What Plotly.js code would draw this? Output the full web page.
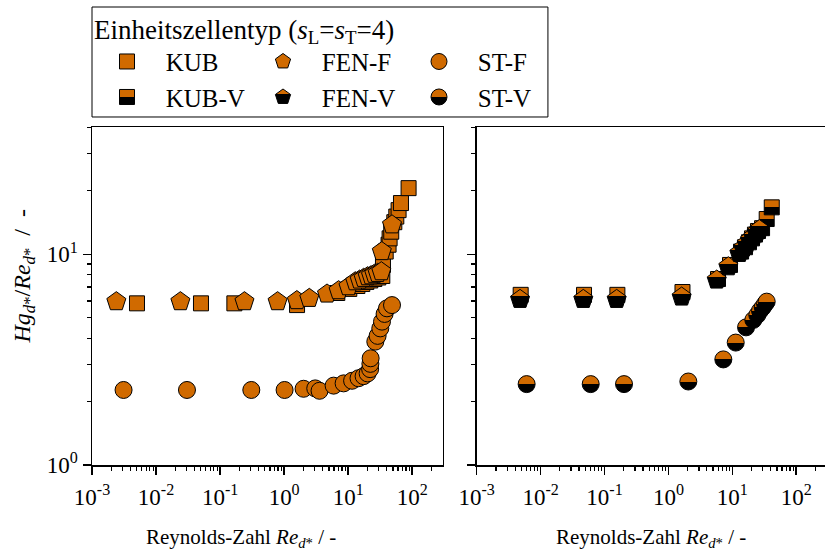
<!DOCTYPE html>
<html><head><meta charset="utf-8">
<script src="https://cdn.plot.ly/plotly-3.0.1.min.js"></script>
<style>html,body{margin:0;padding:0;background:#fff;}#chart{width:825px;height:552px;}</style>
</head><body><div id="chart"></div>
<script>
// ---- data ----
const xTickVals = [0.001, 0.01, 0.1, 1, 10, 100];
const xTickText = ['10<sup>-3</sup>', '10<sup>-2</sup>', '10<sup>-1</sup>', '10<sup>0</sup>', '10<sup>1</sup>', '10<sup>2</sup>'];
const yTickVals = [1, 10];
const yTickText = ['10<sup>0</sup>', '10<sup>1</sup>'];

const kubX = [0.00504, 0.0503, 0.167, 1.59, 6.76, 10.4, 13.9, 16.6, 19.2, 22.1, 25.6, 29.5, 34.1, 34.9, 38.5, 42.7, 44.3, 47.0, 52.5, 56.4, 61.2, 66.7, 87.7];
const kubY = [5.85, 5.85, 5.85, 5.74, 6.55, 6.85, 7.07, 7.23, 7.39, 7.51, 7.63, 7.76, 7.89, 8.90, 10.3, 11.1, 11.9, 12.8, 14.2, 15.1, 16.2, 17.5, 20.6];

const fenX = [0.0024, 0.024, 0.24, 0.79, 1.58, 2.47, 4.67, 7.08, 10.1, 12.9, 15.1, 17.4, 20.1, 22.7, 25.6, 28.8, 32.9, 33.5, 48.3];
const fenY = [5.96, 5.96, 5.96, 5.96, 6.03, 6.18, 6.48, 6.72, 7.02, 7.41, 7.55, 7.69, 7.83, 7.91, 8.04, 8.12, 8.27, 10.3, 13.8];

const stX = [0.00311, 0.0304, 0.307, 1.016, 2.01, 3.06, 3.57, 5.92, 8.48, 11.5, 14.5, 17.4, 20.1, 22.0, 22.2, 22.4, 26.5, 28.8, 31.7, 33.7, 37.0, 40.3, 48.3];
const stY = [2.27, 2.27, 2.27, 2.27, 2.30, 2.31, 2.25, 2.38, 2.44, 2.51, 2.58, 2.64, 2.72, 2.85, 3.02, 3.21, 3.85, 4.10, 4.45, 4.79, 5.21, 5.54, 5.74];

const kubvX = [0.00488, 0.0478, 0.159, 1.66, 5.97, 9.20, 13.7, 15.8, 18.2, 20.3, 22.6, 25.2, 29.2, 34.5, 41.4];
const kubvY = [6.42, 6.42, 6.42, 6.62, 7.63, 8.90, 10.3, 10.8, 11.4, 11.9, 12.4, 12.9, 13.3, 14.7, 16.7];

const fenvX = [0.00477, 0.0466, 0.155, 1.61, 5.70, 8.66, 12.9, 14.9, 16.8, 18.9, 21.3, 24.1, 26.5];
const fenvY = [6.11, 6.11, 6.11, 6.27, 7.55, 8.73, 10.1, 10.7, 11.2, 11.7, 12.1, 12.7, 13.1];

const stvX = [0.00605, 0.0608, 0.202, 2.05, 7.23, 11.3, 16.4, 21.3, 24.6, 27.1, 29.9, 32.5, 34.5];
const stvY = [2.42, 2.42, 2.42, 2.49, 3.17, 3.81, 4.50, 4.88, 5.15, 5.40, 5.60, 5.81, 5.96];

const names = ['KUB', 'KUB-V', 'FEN-F', 'FEN-V', 'ST-F', 'ST-V'];

// ---- styling ----
const orange = '#D06A00';
const FONT = '"Liberation Serif", "Times New Roman", serif';
const pad = '\u00a0\u00a0\u00a0';
const sp = '\u00a0\u00a0';

function mk(symbol, size, half) {
  const m = {symbol: symbol, size: size, color: orange, line: {color: '#000', width: 1}};
  if (half) m.gradient = {type: 'vertical', color: '#000'};
  return m;
}
function tr(x, y, name, group, xa, ya, symbol, size, half, uid, lw) {
  const t = {x: x, y: y, name: pad + name, legendgroup: group, xaxis: xa, yaxis: ya, uid: uid,
    type: 'scatter', mode: 'markers', marker: mk(symbol, size, half), hoverinfo: 'skip'};
  if (lw) t.legendwidth = lw;
  return t;
}
const data = [
  tr(kubX, kubY, names[0], 'kub', 'x', 'y', 'square', 15, false, 'kubf'),
  tr(kubvX, kubvY, names[1], 'kub', 'x2', 'y2', 'square', 15, true, 'kubv'),
  tr(fenX, fenY, names[2], 'fen', 'x', 'y', 'pentagon', 20, false, 'fenf'),
  tr(fenvX, fenvY, names[3], 'fen', 'x2', 'y2', 'pentagon', 20, true, 'fenv'),
  tr(stX, stY, names[4], 'st', 'x', 'y', 'circle', 17, false, 'stf', 78),
  tr(stvX, stvY, names[5], 'st', 'x2', 'y2', 'circle', 17, true, 'stv', 78)
];

const tickFont = {family: FONT, size: 23, color: '#000'};
const minorTicks = {ticks: 'outside', ticklen: 4, tickwidth: 1.2, tickcolor: '#000', dtick: 'D1', showgrid: false};
function xAxis(domain, anchor, rmax) {
  return {type: 'log', domain: domain, anchor: anchor, range: [-3, rmax],
    tickmode: 'array', tickvals: xTickVals, ticktext: xTickText,
    ticks: 'outside', ticklen: 8, tickwidth: 1.5, tickcolor: '#000', ticklabelstandoff: 3,
    showline: true, linecolor: '#000', linewidth: 1.5, mirror: true,
    showgrid: false, zeroline: false, tickfont: tickFont, minor: minorTicks};
}
function yAxis(anchor, labels) {
  return {type: 'log', domain: [0, 1], anchor: anchor, range: [0, 1.604],
    tickmode: 'array', tickvals: yTickVals, ticktext: yTickText, showticklabels: labels,
    ticks: 'outside', ticklen: 8, tickwidth: 1.5, tickcolor: '#000',
    showline: true, linecolor: '#000', linewidth: 1.5, mirror: true,
    showgrid: false, zeroline: false, tickfont: tickFont, minor: minorTicks};
}
const xTitle = 'Reynolds-Zahl <i>Re</i><sub><i>d</i>*</sub> / -';
const layout = {
  width: 825, height: 552,
  margin: {l: 92, r: 0, t: 127, b: 87, pad: 0},
  paper_bgcolor: '#fff', plot_bgcolor: '#fff',
  showlegend: true,
  xaxis: xAxis([0, 0.4784], 'y', 2.475),
  yaxis: yAxis('x', true),
  xaxis2: xAxis([0.5248, 1], 'y2', 2.45),
  yaxis2: yAxis('x2', false),
  // legend frame (the legend itself is drawn without border so its content can be placed freely)
  shapes: [{type: 'rect', xref: 'paper', yref: 'paper', x0: 0, x1: 0.622, y0: 1.0296, y1: 1.355,
    line: {color: '#000', width: 1}, fillcolor: '#fff', layer: 'below'}],
  legend: {orientation: 'h', x: 0, xanchor: 'left', y: 1.365, yanchor: 'top',
    bgcolor: 'rgba(0,0,0,0)', borderwidth: 0,
    font: {family: FONT, size: 25, color: '#000'},
    title: {text: 'Einheitszellentyp (<i>s</i><sub>L</sub>=<i>s</i><sub>T</sub>=4)', side: 'top',
      font: {family: FONT, size: 27, color: '#000'}},
    indentation: 15,
    entrywidth: 96, entrywidthmode: 'pixels', tracegroupgap: 0, traceorder: 'grouped'},
  annotations: [
    {text: '<i>Hg</i><sub><i>d</i>*</sub>/<i>Re</i><sub><i>d</i>*</sub>' + sp + '/' + sp + '-', textangle: -90,
      xref: 'paper', yref: 'paper', x: -0.093, y: 0.56, xanchor: 'center', yanchor: 'middle',
      showarrow: false, font: {family: FONT, size: 24, color: '#000'}},
    {text: xTitle, xref: 'paper', yref: 'paper', x: 0.2033, y: -0.216, xanchor: 'center', yanchor: 'middle',
      showarrow: false, font: {family: FONT, size: 21, color: '#000'}},
    {text: xTitle, xref: 'paper', yref: 'paper', x: 0.7626, y: -0.216, xanchor: 'center', yanchor: 'middle',
      showarrow: false, font: {family: FONT, size: 21, color: '#000'}}
  ]
};

function fixGradients() {
  document.querySelectorAll('#chart linearGradient').forEach(function (g) {
    const p = g.id.indexOf('fenv') >= 0 ? 62 : 50;
    g.querySelectorAll('stop').forEach(function (s) { s.setAttribute('offset', p + '%'); });
  });
}
const gd = document.getElementById('chart');
Plotly.newPlot(gd, data, layout, {displayModeBar: false, staticPlot: true}).then(function () {
  fixGradients();
  gd.on('plotly_afterplot', fixGradients);
});
</script>
</body></html>
